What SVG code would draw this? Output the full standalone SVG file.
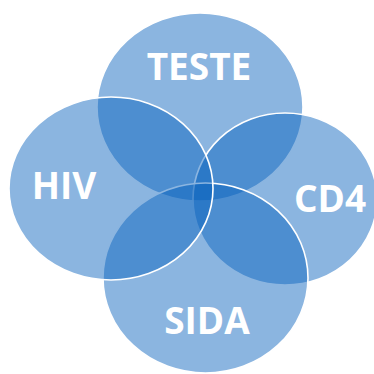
<svg xmlns="http://www.w3.org/2000/svg" width="374" height="374" viewBox="0 0 374 374">
  <style>
    .set { fill: rgb(8,98,190); fill-opacity: 0.47; stroke: #ffffff; stroke-width: 1.6; }
    .label { fill: #ffffff; font-family: "Open Sans", "Liberation Sans", sans-serif; font-weight: bold; font-size: 37px; text-anchor: middle; }
  </style>
  <rect width="374" height="374" fill="#ffffff"/>
  <!-- sets, drawn back to front -->
  <g id="teste">
    <ellipse class="set" cx="200" cy="107" rx="103" ry="94"/>
    <text class="label" x="199" y="80">TESTE</text>
  </g>
  <g id="cd4">
    <ellipse class="set" cx="285" cy="199" rx="92" ry="86"/>
    <text class="label" x="330" y="212">CD4</text>
  </g>
  <g id="sida">
    <ellipse class="set" cx="205.5" cy="278" rx="102.5" ry="95"/>
    <text class="label" x="207" y="334">SIDA</text>
  </g>
  <g id="hiv">
    <ellipse class="set" cx="111" cy="188.5" rx="102" ry="91.5"/>
    <text class="label" x="64" y="199">HIV</text>
  </g>
  <g id="connectors"/>
</svg>
